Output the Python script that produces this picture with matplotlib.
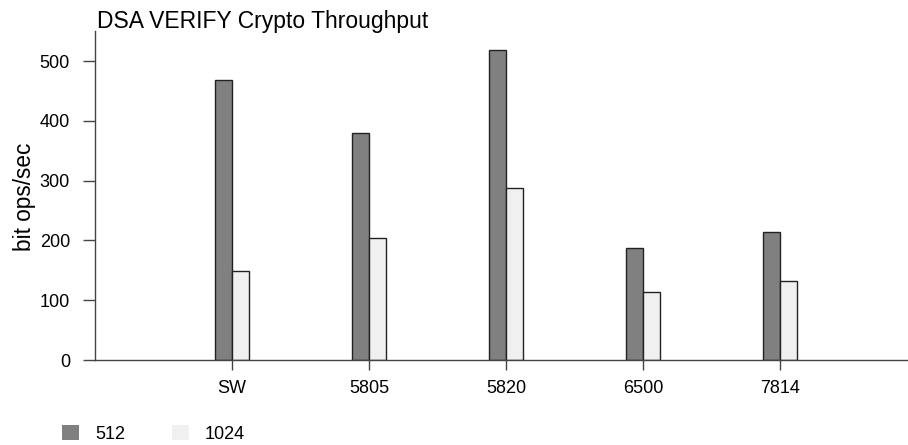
import matplotlib
matplotlib.use("Agg")
import matplotlib.pyplot as plt
from matplotlib.patches import Patch
import numpy as np

plt.rcParams['font.family'] = ['Liberation Sans', 'DejaVu Sans']

categories = ["SW", "5805", "5820", "6500", "7814"]
series_names = ["512", "1024"]
vals_512 = [468, 380, 518, 187, 214]
vals_1024 = [149, 204, 288, 113, 132]
colors = ["#808080", "#f0f0f0"]

fig = plt.figure(figsize=(9.08, 4.45), dpi=100)
ax = fig.add_axes([0.1046, 0.191, 0.8954, 0.739])

x = np.arange(len(categories))
w = 0.124
ax.bar(x - w / 2, vals_512, width=w, color=colors[0], edgecolor="#222222", linewidth=1.0)
ax.bar(x + w / 2, vals_1024, width=w, color=colors[1], edgecolor="#222222", linewidth=1.0)

ax.set_xlim(-1, 4.93)
ax.set_ylim(0, 550)
ax.set_yticks([0, 100, 200, 300, 400, 500])
ax.set_xticks(x)
ax.set_xticklabels(categories)
for s in ["top", "right"]:
    ax.spines[s].set_visible(False)
for s in ["left", "bottom"]:
    ax.spines[s].set_color("#444444")
    ax.spines[s].set_linewidth(1.0)
ax.tick_params(axis="both", direction="out", width=1.0, color="#444444", labelsize=13)
ax.tick_params(axis="x", length=7.5, pad=7)
ax.tick_params(axis="y", length=9, pad=9)
ax.set_ylabel("bit ops/sec", fontsize=16.3)
ax.yaxis.set_label_coords(-0.0725, 0.495)

fig.text(0.107, 0.937, "DSA VERIFY Crypto Throughput", fontsize=16.5, ha="left", va="baseline")

handles = [Patch(facecolor=colors[0], edgecolor="none"), Patch(facecolor=colors[1], edgecolor="none")]
fig.legend(handles, series_names, ncol=2, loc="lower left", bbox_to_anchor=(0.0683, 0.005),
           frameon=False, fontsize=13, handlelength=0.94, handleheight=0.94,
           handletextpad=0.89, columnspacing=2.6, borderpad=0, borderaxespad=0)

fig.savefig("out.png", dpi=100)
